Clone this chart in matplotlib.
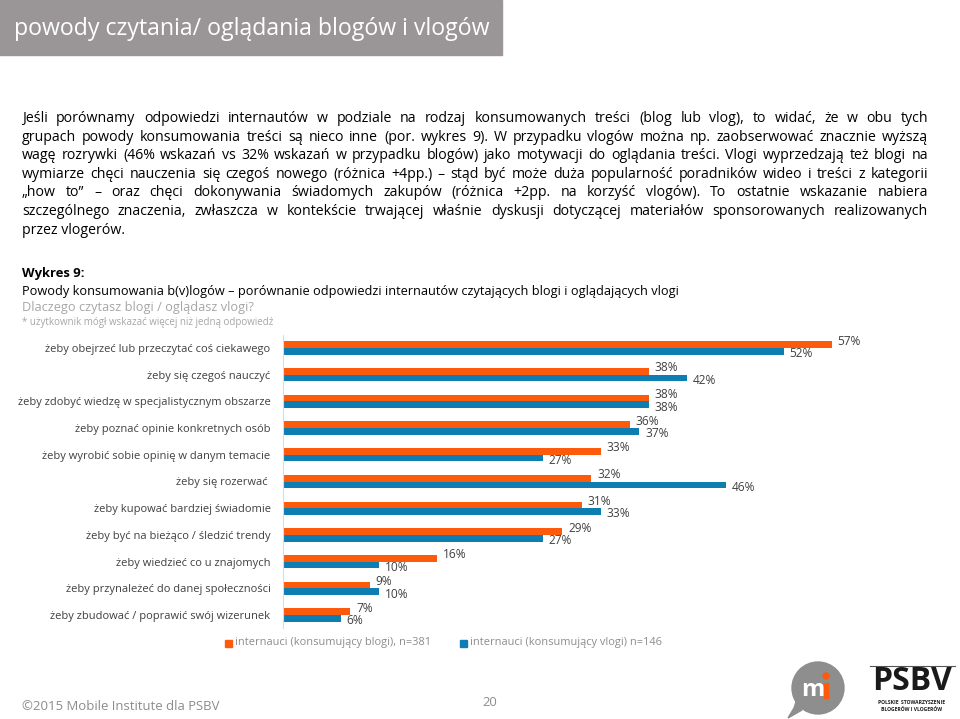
import numpy as np
import matplotlib
matplotlib.use("Agg")
import matplotlib.pyplot as plt
from matplotlib.patches import Rectangle, Circle, Polygon

plt.rcParams['font.family'] = ['Open Sans', 'DejaVu Sans']

W, H = 960, 719

# Data
categories = [
    "żeby obejrzeć lub przeczytać coś ciekawego",
    "żeby się czegoś nauczyć",
    "żeby zdobyć wiedzę w specjalistycznym obszarze",
    "żeby poznać opinie konkretnych osób",
    "żeby wyrobić sobie opinię w danym temacie",
    "żeby się rozerwać ",
    "żeby kupować bardziej świadomie",
    "żeby być na bieżąco / śledzić trendy",
    "żeby wiedzieć co u znajomych",
    "żeby przynależeć do danej społeczności",
    "żeby zbudować / poprawić swój wizerunek",
]
blogi = [57, 38, 38, 36, 33, 32, 31, 29, 16, 9, 7]
vlogi = [52, 42, 38, 37, 27, 46, 33, 27, 10, 10, 6]
series_names = ["internauci (konsumujący blogi), n=381",
                "internauci (konsumujący vlogi) n=146"]

paragraph = [
    "Jeśli porównamy odpowiedzi internautów w podziale na rodzaj konsumowanych treści (blog lub vlog), to widać, że w obu tych",
    "grupach powody konsumowania treści są nieco inne (por. wykres 9). W przypadku vlogów można np. zaobserwować znacznie wyższą",
    "wagę rozrywki (46% wskazań vs 32% wskazań w przypadku blogów) jako motywacji do oglądania treści. Vlogi wyprzedzają też blogi na",
    "wymiarze chęci nauczenia się czegoś nowego (różnica +4pp.) – stąd być może duża popularność poradników wideo i treści z kategorii",
    "„how to” – oraz chęci dokonywania świadomych zakupów (różnica +2pp. na korzyść vlogów). To ostatnie wskazanie nabiera",
    "szczególnego znaczenia, zwłaszcza w kontekście trwającej właśnie dyskusji dotyczącej materiałów sponsorowanych realizowanych",
    "przez vlogerów.",
]

ORANGE = '#fd5a0c'
BLUE = '#0e7db2'
DARK = '#404040'
GREY = '#a6a6a6'

fig = plt.figure(figsize=(W / 100, H / 100), dpi=100)


def fx(x):
    return x / W


def fy(y):
    return 1 - y / H


# header box
fig.patches.append(Rectangle((0, fy(55)), fx(502), 55 / H, transform=fig.transFigure,
                             color='#9a9596', zorder=0))
fig.text(fx(14), fy(29), "powody czytania/ oglądania blogów i vlogów", color='white',
         fontsize=16.7, va='center', ha='left')

# justified paragraph (words placed one by one, baseline aligned)
renderer = fig.canvas.get_renderer()
x_left, x_right = 22, 928
psize = 10.2
for i, line in enumerate(paragraph):
    y = fy(122 + i * 18.6)
    words = line.split()
    if i == len(paragraph) - 1:
        fig.text(fx(x_left), y, line, fontsize=psize, va='baseline', color='black')
        continue
    arts = [fig.text(0, y, w, fontsize=psize, va='baseline', color='black') for w in words]
    widths = [a.get_window_extent(renderer).width for a in arts]
    gap = (x_right - x_left - sum(widths)) / (len(words) - 1)
    x = x_left
    for a, w in zip(arts, widths):
        a.set_x(fx(x))
        x += w + gap

# chart heading
fig.text(fx(22), fy(274), "Wykres 9:", fontsize=9.4, fontweight='bold', va='center')
fig.text(fx(22), fy(291), "Powody konsumowania b(v)logów – porównanie odpowiedzi internautów czytających blogi i oglądających vlogi",
         fontsize=9.2, va='center')
fig.text(fx(22), fy(307), "Dlaczego czytasz blogi / oglądasz vlogi?", fontsize=9.2, va='center', color=GREY)
fig.text(fx(22), fy(322), "* użytkownik mógł wskazać więcej niż jedną odpowiedź", fontsize=7, va='center', color=GREY)

# bar chart
ax_top, ax_bot, ax_l, ax_r = 335, 628, 283, 900
ax = fig.add_axes([fx(ax_l), fy(ax_bot), fx(ax_r - ax_l), (ax_bot - ax_top) / H])
pos = np.arange(len(categories))
h = 0.25
ax.barh(pos - h / 2, blogi, height=h, color=ORANGE)
ax.barh(pos + h / 2, vlogi, height=h, color=BLUE)
ax.set_xlim(0, (ax_r - ax_l) / 9.63)
ax.set_ylim(10.48, -0.48)
for p, b, v in zip(pos, blogi, vlogi):
    ax.text(b + 0.6, p - h / 2 - 0.13, f"{b}%", fontsize=8.6, color=DARK, va='center', ha='left')
    ax.text(v + 0.6, p + h / 2 + 0.09, f"{v}%", fontsize=8.6, color=DARK, va='center', ha='left')
ax.set_yticks(pos)
ax.set_yticklabels(categories, fontsize=8, color=DARK)
ax.tick_params(axis='y', length=0, pad=9)
ax.set_xticks([])
for s in ['top', 'right', 'bottom']:
    ax.spines[s].set_visible(False)
ax.spines['left'].set_color('#dcdcdc')
ax.patch.set_alpha(0)

# legend
for sx, tx, col, name in [(225, 235, ORANGE, series_names[0]), (460, 470, BLUE, series_names[1])]:
    fig.patches.append(Rectangle((fx(sx), fy(647)), fx(7), 7 / H, transform=fig.transFigure, color=col))
    fig.text(fx(tx), fy(643), name, fontsize=7.9, color='#8c8c8c', va='center')

# footer
fig.text(fx(22), fy(707), "©2015 Mobile Institute dla PSBV", fontsize=9.45, color='#8c8c8c', va='center')
fig.text(fx(490), fy(703), "20", fontsize=9.4, color='#8c8c8c', va='center', ha='center')

# logos
lg = fig.add_axes([fx(780), 0, fx(180), 69 / H])
lg.set_xlim(0, 180)
lg.set_ylim(69, 0)
lg.axis('off')
lg.add_patch(Circle((38, 38), 26, color='#8e8e8e'))
lg.add_patch(Polygon([[16, 52], [22, 60], [8, 68], [14, 58]], closed=True, color='#8e8e8e'))
lg.text(33, 40, "m", color='white', fontsize=17, fontweight='bold', ha='center', va='center')
lg.add_patch(Rectangle((44, 33), 4, 15, color=ORANGE))
lg.add_patch(Circle((46, 26), 3, color=ORANGE))
lg.plot([90, 175], [16, 16], color='#555555', lw=0.8)
lg.text(132, 31, "PSBV", fontsize=23, fontweight='bold', color='#1a1a1a', ha='center', va='center')
lg.text(132, 52, "POLSKIE  STOWARZYSZENIE", fontsize=3.6, fontweight='bold', color='#1a1a1a', ha='center', va='center')
lg.text(132, 59, "BLOGERÓW I VLOGERÓW", fontsize=3.6, fontweight='bold', color='#1a1a1a', ha='center', va='center')

fig.savefig("out.png", dpi=100)
